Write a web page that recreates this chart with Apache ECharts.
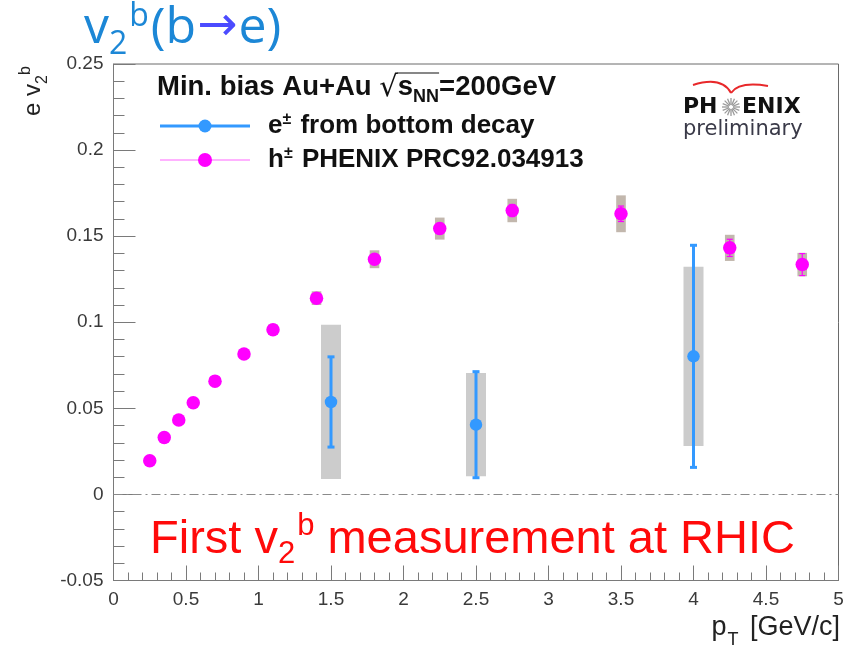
<!DOCTYPE html>
<html>
<head>
<meta charset="utf-8">
<script src="https://cdn.jsdelivr.net/npm/echarts@6/dist/echarts.min.js"></script>
<style>
  html, body { margin: 0; padding: 0; background: #ffffff; }
  #chart { width: 850px; height: 653px; }
</style>
</head>
<body>
<div id="chart"></div>
<script>
// Charged hadron v2, PHENIX PRC 92, 034913
const hadronPt   = [0.25, 0.35, 0.45, 0.55, 0.70, 0.90, 1.10, 1.40, 1.80, 2.25, 2.75, 3.50, 4.25, 4.75];
const hadronV2   = [0.0195, 0.0330, 0.0432, 0.0533, 0.0658, 0.0815, 0.0957, 0.1140, 0.1366, 0.1544, 0.1649, 0.1630, 0.1432, 0.1335];
const hadronStat = [0.0003, 0.0004, 0.0004, 0.0005, 0.0006, 0.0008, 0.0010, 0.0015, 0.0025, 0.0030, 0.0035, 0.0045, 0.0050, 0.0064];
const hadronSys  = [0.0010, 0.0012, 0.0015, 0.0018, 0.0020, 0.0025, 0.0030, 0.0040, 0.0052, 0.0064, 0.0068, 0.0107, 0.0076, 0.0068];

// Electrons from bottom-hadron decays
const bottomPt   = [1.5, 2.5, 4.0];
const bottomV2   = [0.0537, 0.0405, 0.0802];
const bottomStat = [0.0262, 0.0308, 0.0645];
const bottomSys  = [0.0448, 0.0300, 0.0521];

// Axis ranges and tick steps
const xRange = [0, 5];
const xStep = 0.5;
const yRange = [-0.05, 0.25];
const yStep = 0.05;

const SANS = '"Liberation Sans", Arial, Helvetica, sans-serif';
const AXIS_GREY = '#7a7a7a';
const MAGENTA = '#ff00ff';
const BLUE = '#3399ff';

// ---------- text helpers: lay out pieces (sub/superscripts) left to right ----------
const measureCtx = document.createElement('canvas').getContext('2d');
function measure(text, size, family, weight) {
  measureCtx.font = (weight || 'normal') + ' ' + size + 'px ' + family;
  return measureCtx.measureText(text).width;
}
// parts: {text, size, dy, color, weight, family, gap}; returns elements and end x
function textRun(parts, x0, baseline, defaults) {
  let x = x0;
  const elements = [];
  parts.forEach(function (p) {
    const s = Object.assign({}, defaults, p);
    elements.push({
      type: 'text',
      x: x,
      y: baseline + (s.dy || 0) - 0.34 * s.size,
      silent: true,
      style: {
        text: s.text,
        fontSize: s.size,
        fontFamily: s.family,
        fontWeight: s.weight || 'normal',
        fill: s.color,
        verticalAlign: 'middle',
        align: 'left'
      }
    });
    x += measure(s.text, s.size, s.family, s.weight) + (s.gap || 0);
  });
  return { elements: elements, width: x - x0, end: x };
}
function runWidth(parts, defaults) {
  return parts.reduce(function (w, p) {
    const s = Object.assign({}, defaults, p);
    return w + measure(s.text, s.size, s.family, s.weight) + (s.gap || 0);
  }, 0);
}

// ---------- error bar renderers ----------
function sysBoxRenderer(halfWidth, color) {
  return function (params, api) {
    const x = api.value(0);
    const top = api.coord([x, api.value(2)]);
    const bot = api.coord([x, api.value(1)]);
    return {
      type: 'rect',
      shape: { x: top[0] - halfWidth, y: top[1], width: 2 * halfWidth, height: bot[1] - top[1] },
      style: { fill: color }
    };
  };
}
function statBarRenderer(capHalf, color, width) {
  return function (params, api) {
    const x = api.value(0);
    const a = api.coord([x, api.value(2)]);
    const b = api.coord([x, api.value(1)]);
    const st = { stroke: color, lineWidth: width };
    return {
      type: 'group',
      children: [
        { type: 'line', shape: { x1: a[0], y1: a[1], x2: b[0], y2: b[1] }, style: st },
        { type: 'line', shape: { x1: a[0] - capHalf, y1: a[1], x2: a[0] + capHalf, y2: a[1] }, style: st },
        { type: 'line', shape: { x1: b[0] - capHalf, y1: b[1], x2: b[0] + capHalf, y2: b[1] }, style: st }
      ]
    };
  };
}
function band(xs, ys, errs) {
  return xs.map(function (x, i) { return [x, ys[i] - errs[i], ys[i] + errs[i]]; });
}
function points(xs, ys) {
  return xs.map(function (x, i) { return [x, ys[i]]; });
}

// ---------- overlay text and legend ----------
const graphics = [];

// Headline v2^b(b->e)
(function () {
  const fam = '"Open Sans", "Noto Sans", sans-serif';
  const d = { size: 50, family: fam, color: '#1c87d6' };
  const r = textRun([
    { text: 'v' },
    { text: '2', size: 32, dy: 10, gap: 2 },
    { text: 'b', size: 32, dy: -18, gap: 2 },
    { text: '(b', gap: 1 },
    { text: '\u2192', color: '#4b4bff', family: '"DejaVu Sans", sans-serif', size: 48, dy: -2, gap: 1 },
    { text: 'e)' }
  ], 84, 46, d);
  graphics.push.apply(graphics, r.elements);
})();

// Y axis title "e v2^b" (rotated)
(function () {
  const d = { size: 24, family: SANS, color: '#222222' };
  const r = textRun([
    { text: 'e v' },
    { text: '2', size: 16, dy: 6 },
    { text: 'b', size: 16, dy: -11 }
  ], 0, 0, d);
  graphics.push({ type: 'group', x: 42, y: 116, rotation: Math.PI / 2, silent: true, children: r.elements });
})();

// X axis title "p_T [GeV/c]" right-aligned to the frame
(function () {
  const d = { size: 27, family: SANS, color: '#222222' };
  const parts = [
    { text: 'p', gap: 1 },
    { text: 'T', size: 18, dy: 9, gap: 4 },
    { text: ' [GeV/c]' }
  ];
  const w = runWidth(parts, d);
  graphics.push.apply(graphics, textRun(parts, 840 - w, 637, d).elements);
})();

// Legend header with sqrt(s_NN)
(function () {
  const d = { size: 27.5, family: SANS, color: '#111111', weight: 'bold' };
  const a = textRun([{ text: 'Min. bias Au+Au ' }], 157, 97, d);
  const rad = textRun([{ text: '\u221A', weight: 'normal', size: 29, family: '"DejaVu Sans", sans-serif' }], a.end, 98, d);
  const s = textRun([
    { text: 's' },
    { text: 'NN', size: 18, dy: 6 }
  ], rad.end, 97, d);
  const tail = textRun([{ text: '=200GeV' }], s.end, 97, d);
  graphics.push.apply(graphics, a.elements.concat(rad.elements, s.elements, tail.elements));
  graphics.push({
    type: 'line', silent: true,
    shape: { x1: rad.end - 1, y1: 73, x2: s.end, y2: 73 },
    style: { stroke: '#111111', lineWidth: 1.2 }
  });
})();

// Legend entries
(function () {
  const d = { size: 26, family: SANS, color: '#111111', weight: 'bold' };
  graphics.push(
    { type: 'line', silent: true, shape: { x1: 160, y1: 126, x2: 250, y2: 126 }, style: { stroke: BLUE, lineWidth: 3 } },
    { type: 'circle', silent: true, shape: { cx: 205, cy: 126, r: 6.5 }, style: { fill: BLUE } },
    { type: 'line', silent: true, shape: { x1: 160, y1: 160, x2: 250, y2: 160 }, style: { stroke: '#ff66ff', lineWidth: 1.2 } },
    { type: 'circle', silent: true, shape: { cx: 205, cy: 160, r: 7 }, style: { fill: MAGENTA } }
  );
  graphics.push.apply(graphics, textRun([
    { text: 'e' }, { text: '\u00B1', size: 16, dy: -10, gap: 2 }, { text: ' from bottom decay' }
  ], 268, 135, d).elements);
  graphics.push.apply(graphics, textRun([
    { text: 'h' }, { text: '\u00B1', size: 16, dy: -10, gap: 2 }, { text: ' PHENIX PRC92.034913' }
  ], 268, 169, d).elements);
})();

// Collaboration logo
(function () {
  const fam = '"DejaVu Sans", sans-serif';
  const d = { size: 22, family: fam, color: '#111111', weight: 'bold' };
  graphics.push.apply(graphics, textRun([{ text: 'PH' }], 683, 115, d).elements);
  graphics.push.apply(graphics, textRun([{ text: 'ENIX' }], 742, 115, d).elements);
  graphics.push.apply(graphics, textRun([{ text: 'preliminary', weight: 'normal', size: 21, color: '#3a3a48' }], 683, 137, d).elements);
  // sunburst between H and E
  const rays = [];
  for (let k = 0; k < 16; k++) {
    const ang = k * Math.PI / 8;
    rays.push({
      type: 'line', silent: true,
      shape: { x1: 731 + 2 * Math.cos(ang), y1: 107 + 2 * Math.sin(ang), x2: 731 + 9 * Math.cos(ang), y2: 107 + 9 * Math.sin(ang) },
      style: { stroke: '#9a9a9a', lineWidth: 1.3 }
    });
  }
  graphics.push.apply(graphics, rays);
  graphics.push(
    { type: 'bezierCurve', silent: true, shape: { x1: 693, y1: 85, cpx1: 712, cpy1: 79, cpx2: 725, cpy2: 82, x2: 731, y2: 93 }, style: { stroke: '#e8282a', lineWidth: 2, fill: null } },
    { type: 'bezierCurve', silent: true, shape: { x1: 731, y1: 93, cpx1: 737, cpy1: 84, cpx2: 750, cpy2: 83, x2: 768, y2: 86 }, style: { stroke: '#e8282a', lineWidth: 2, fill: null } }
  );
})();

// Banner line inside the frame
(function () {
  const d = { size: 47, family: SANS, color: '#ff0a0a' };
  graphics.push.apply(graphics, textRun([
    { text: 'First v' },
    { text: '2', size: 31, dy: 9, gap: 2 },
    { text: 'b', size: 31, dy: -19 },
    { text: ' measurement at RHIC' }
  ], 150, 556, d).elements);
})();

// ---------- chart ----------
const chart = echarts.init(document.getElementById('chart'), null, { renderer: 'canvas' });

const labelStyle = { color: '#3a3a3a', fontSize: 19, fontFamily: SANS, margin: 10, showMinLabel: true, showMaxLabel: true, hideOverlap: false };

chart.setOption({
  animation: false,
  backgroundColor: '#ffffff',
  grid: {
    left: 113.5, right: 11.5, top: 64, bottom: 72.5,
    show: true, borderColor: '#6a6a6a', borderWidth: 1, backgroundColor: 'transparent'
  },
  xAxis: {
    type: 'value', min: xRange[0], max: xRange[1], interval: xStep,
    axisLine: { show: true, onZero: false, lineStyle: { color: AXIS_GREY, width: 1 } },
    splitLine: { show: false },
    axisLabel: labelStyle,
    axisTick: { show: true, inside: true, length: 15, lineStyle: { color: AXIS_GREY } },
    minorTick: { show: true, splitNumber: 5, length: 8, lineStyle: { color: AXIS_GREY } }
  },
  yAxis: {
    type: 'value', min: yRange[0], max: yRange[1], interval: yStep,
    axisLine: { show: true, onZero: false, lineStyle: { color: AXIS_GREY, width: 1 } },
    splitLine: { show: false },
    axisLabel: labelStyle,
    axisTick: { show: true, inside: true, length: 22, lineStyle: { color: AXIS_GREY } },
    minorTick: { show: true, splitNumber: 5, length: 11, lineStyle: { color: AXIS_GREY } }
  },
  series: [
    {
      name: 'h sys', type: 'custom', z: 1, silent: true,
      renderItem: sysBoxRenderer(4.8, '#c2b7ad'),
      encode: { x: 0, y: [1, 2] },
      data: band(hadronPt, hadronV2, hadronSys)
    },
    {
      name: 'e sys', type: 'custom', z: 1, silent: true,
      renderItem: sysBoxRenderer(10, '#cccccc'),
      encode: { x: 0, y: [1, 2] },
      data: band(bottomPt, bottomV2, bottomSys)
    },
    {
      name: 'h stat', type: 'custom', z: 2, silent: true,
      renderItem: statBarRenderer(3, MAGENTA, 1.2),
      encode: { x: 0, y: [1, 2] },
      data: band(hadronPt, hadronV2, hadronStat)
    },
    {
      name: 'e stat', type: 'custom', z: 2, silent: true,
      renderItem: statBarRenderer(3.5, BLUE, 3),
      encode: { x: 0, y: [1, 2] },
      data: band(bottomPt, bottomV2, bottomStat)
    },
    {
      name: 'h\u00B1 PHENIX PRC92.034913', type: 'scatter', z: 3, silent: true,
      symbol: 'circle', symbolSize: 13.5,
      itemStyle: { color: MAGENTA, opacity: 1 },
      data: points(hadronPt, hadronV2)
    },
    {
      name: 'e\u00B1 from bottom decay', type: 'scatter', z: 3, silent: true,
      symbol: 'circle', symbolSize: 12.5,
      itemStyle: { color: BLUE, opacity: 1 },
      data: points(bottomPt, bottomV2),
      markLine: {
        silent: true, symbol: 'none', label: { show: false },
        lineStyle: { color: '#8a8a8a', width: 1.2, type: [9, 4, 2, 4] },
        data: [{ yAxis: 0 }]
      }
    }
  ],
  graphic: graphics
});
</script>
</body>
</html>
